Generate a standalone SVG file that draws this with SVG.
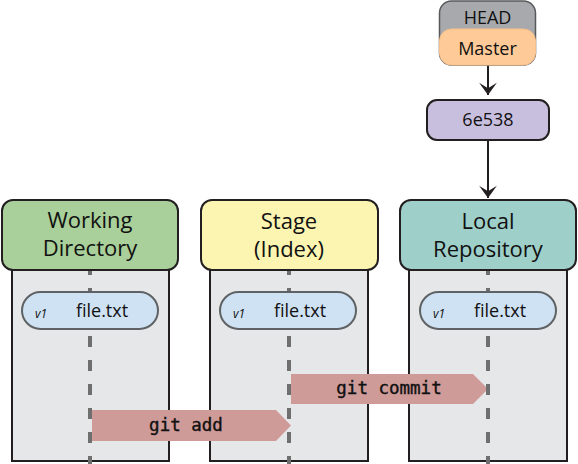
<svg xmlns="http://www.w3.org/2000/svg" width="578" height="464" viewBox="0 0 578 464">
<style>
.hdr{stroke:#231f20;stroke-width:2}
.body{fill:#e6e7e8;stroke:#231f20;stroke-width:2}
.lane{stroke:#6f6f6f;stroke-width:4;stroke-dasharray:11 13}
.pill{fill:#cfe2f3;stroke:#5f6264;stroke-width:2}
.t{font-family:"Open Sans","Noto Sans",sans-serif;fill:#111;text-anchor:middle}
.h{font-size:22px}
.f{font-size:18px}
.v{font-size:12px;font-style:italic}
.op{fill:#cf9b99}
.mono{font-family:"DejaVu Sans Mono","Liberation Mono",monospace;font-size:17.5px;fill:#111;stroke:#111;stroke-width:0.4;text-anchor:middle}
.conn{stroke:#231f20;stroke-width:2;fill:none}
</style>
<defs>
<marker id="ah" markerUnits="userSpaceOnUse" markerWidth="20" markerHeight="20" viewBox="-12 -9 14 18" refX="0" refY="0" orient="auto">
<path d="M0,0 L-11,-8 L-6,0 L-11,8 Z" fill="#231f20"/>
</marker>
</defs>

<!-- column bodies -->
<g id="bodies">
<rect class="body" x="12" y="250" width="157" height="211"/>
<rect class="body" x="210" y="250" width="158" height="211"/>
<rect class="body" x="409" y="250" width="158" height="211"/>
</g>

<!-- operations and connectors -->
<g id="connectors">
<g id="git-add">
<polygon class="op" points="92,410 276,410 291,425.5 276,441 92,441"/>
<text class="mono" x="186" y="431">git add</text>
</g>
<g id="git-commit">
<polygon class="op" points="291,374 473,374 488,389 473,404 291,404"/>
<text class="mono" x="389" y="394">git commit</text>
</g>
<line class="conn" x1="488" y1="65" x2="488" y2="95" marker-end="url(#ah)"/>
<line class="conn" x1="488" y1="140" x2="488" y2="198" marker-end="url(#ah)"/>
</g>

<g id="lanes">
<line class="lane" x1="90" y1="264" x2="90" y2="464"/>
<line class="lane" x1="289" y1="264" x2="289" y2="464"/>
<line class="lane" x1="488" y1="264" x2="488" y2="464"/>
</g>

<g id="working-directory">
<rect class="hdr" x="2" y="200" width="176" height="70" rx="11" fill="#a9cf9a"/>
<text class="t h" x="90" y="228">Working</text>
<text class="t h" x="90" y="256">Directory</text>
<g id="wd-file">
<rect class="pill" x="22" y="292" width="136" height="37" rx="18.5"/>
<text class="t v" x="41" y="318">v1</text>
<text class="t f" x="102" y="317">file.txt</text>
</g>
</g>

<g id="stage">
<rect class="hdr" x="201" y="200" width="177" height="70" rx="11" fill="#fbf5b1"/>
<text class="t h" x="289" y="229">Stage</text>
<text class="t h" x="289" y="257">(Index)</text>
<g id="stage-file">
<rect class="pill" x="220" y="292" width="136" height="37" rx="18.5"/>
<text class="t v" x="239" y="318">v1</text>
<text class="t f" x="300" y="317">file.txt</text>
</g>
</g>

<g id="local-repository">
<rect class="hdr" x="400" y="200" width="176" height="70" rx="11" fill="#9fcfc9"/>
<text class="t h" x="488" y="229">Local</text>
<text class="t h" x="488" y="257">Repository</text>
<g id="repo-file">
<rect class="pill" x="420" y="292" width="136" height="37" rx="18.5"/>
<text class="t v" x="439" y="318">v1</text>
<text class="t f" x="500" y="317">file.txt</text>
</g>
</g>

<g id="head">
<rect x="439.5" y="1" width="96" height="64" rx="12" fill="#a7a9ac" stroke="#58595b" stroke-width="1.5"/>
<text class="t f" x="487.5" y="24">HEAD</text>
</g>
<g id="master">
<rect x="439.5" y="29" width="96" height="36" rx="12" fill="#fecb98" stroke="#f8c08c" stroke-width="1"/>
<text class="t f" x="487.5" y="55">Master</text>
</g>

<g id="commit-6e538">
<rect x="427" y="100" width="122" height="40" rx="10" fill="#c8bfdf" stroke="#231f20" stroke-width="2"/>
<text class="t f" x="488" y="126">6e538</text>
</g>
</svg>
